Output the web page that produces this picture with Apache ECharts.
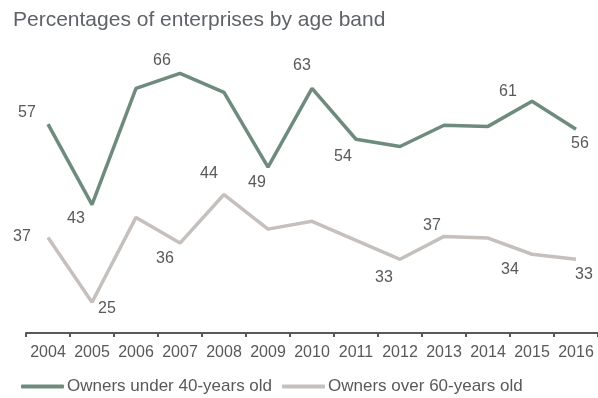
<!DOCTYPE html>
<html>
<head>
<meta charset="utf-8">
<script src="https://cdn.jsdelivr.net/npm/echarts@6/dist/echarts.min.js"></script>
<style>
html,body{margin:0;padding:0;background:#fff;}
#c{width:598px;height:398px;}
</style>
</head>
<body>
<div id="c"></div>
<script>
// ---- data ----
const years = ['2004','2005','2006','2007','2008','2009','2010','2011','2012','2013','2014','2015','2016'];
const under40 = [56.9, 42.5, 63.3, 66.0, 62.6, 49.2, 63.3, 54.2, 52.9, 56.7, 56.5, 61.0, 56.0];
const over60  = [36.6, 25.0, 40.2, 35.6, 44.3, 38.1, 39.5, 36.1, 32.7, 36.8, 36.5, 33.6, 32.7];
const seriesNames = ['Owners under 40-years old', 'Owners over 60-years old'];
const titleText = 'Percentages of enterprises by age band';

// ---- label placement (layout only) ----
const under40Labels = {0:[-21,-12],1:[-16,14],3:[-18,-13],5:[-11,15],6:[-10,-23],7:[-13,17],11:[-24,-10],12:[4,14]};
const over60Labels  = {0:[-26,-1],1:[15,6],3:[-15,15],4:[-15,-21],8:[-16,18],9:[-12,-11],11:[-22,15],12:[8,15]};

const FONT = '"Liberation Sans", Arial, sans-serif';
const TXT = '#595959';

function build(values, placements) {
  return values.map((v, i) => {
    const p = placements[i];
    return {
      value: v,
      label: p ? { show: true, position: 'inside', offset: p } : { show: false }
    };
  });
}

const chart = echarts.init(document.getElementById('c'), null, {renderer: 'canvas'});
chart.setOption({
  animation: false,
  backgroundColor: '#fff',
  title: {
    text: titleText,
    left: 8, top: 5,
    textStyle: { fontFamily: FONT, fontSize: 21, fontWeight: 'normal', color: '#5f6266' }
  },
  grid: { left: 26, width: 575.6, top: 51, height: 282 },
  legend: {
    data: seriesNames,
    left: 21, top: 378, padding: 0,
    itemWidth: 43, itemHeight: 4, itemGap: 10,
    icon: 'roundRect',
    textStyle: { fontFamily: FONT, fontSize: 17, color: TXT, padding: [0, 0, 0, -2] }
  },
  xAxis: {
    type: 'category',
    data: years,
    boundaryGap: true,
    axisLine: { show: true, lineStyle: { color: '#595959', width: 2 } },
    axisTick: { show: true, length: 4, lineStyle: { color: '#595959', width: 2 } },
    axisLabel: { fontFamily: FONT, fontSize: 16, color: TXT, margin: 12, interval: 0 },
    splitLine: { show: false }
  },
  yAxis: {
    type: 'value',
    min: 19.5, max: 70,
    show: false,
    splitLine: { show: false }
  },
  series: [
    {
      name: seriesNames[0], type: 'line',
      data: build(under40, under40Labels),
      symbol: 'circle', symbolSize: 0, showSymbol: true,
      lineStyle: { color: '#6e8b7d', width: 3.5 },
      itemStyle: { color: '#6e8b7d' },
      label: { fontFamily: FONT, fontSize: 16, color: TXT, align: 'center', verticalAlign: 'middle', formatter: p => Math.round(p.value) },
      z: 3
    },
    {
      name: seriesNames[1], type: 'line',
      data: build(over60, over60Labels),
      symbol: 'circle', symbolSize: 0, showSymbol: true,
      lineStyle: { color: '#c5c0bb', width: 3.5 },
      itemStyle: { color: '#c5c0bb' },
      label: { fontFamily: FONT, fontSize: 16, color: TXT, align: 'center', verticalAlign: 'middle', formatter: p => Math.round(p.value) },
      z: 2
    }
  ]
});
</script>
</body>
</html>
